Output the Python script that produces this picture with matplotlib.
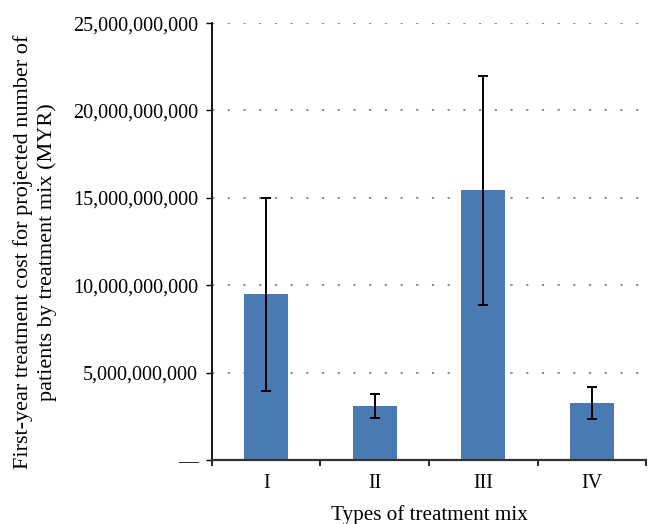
import matplotlib
matplotlib.use('Agg')
import matplotlib.pyplot as plt
from matplotlib.ticker import FuncFormatter
import numpy as np

# Treatment mix categories and first-year cost (MYR)
categories = ['I', 'II', 'III', 'IV']
costs = [9.50e9, 3.09e9, 15.46e9, 3.26e9]
err_low = [3.97e9, 2.41e9, 8.88e9, 2.37e9]
err_high = [15.0e9, 3.80e9, 21.99e9, 4.16e9]
y_ticks = [0, 5e9, 10e9, 15e9, 20e9, 25e9]

plt.rcParams['font.family'] = ['Liberation Serif', 'DejaVu Serif']

fig = plt.figure(figsize=(6.52, 5.24), dpi=100)
ax = fig.add_axes([0.325, 0.122, 0.666, 0.834])

x = np.arange(len(categories))
costs_arr = np.array(costs)
yerr = [costs_arr - np.array(err_low), np.array(err_high) - costs_arr]

ax.bar(x, costs, width=0.405, color='#4a7ab4', zorder=2)
ax.errorbar(x, costs, yerr=yerr, fmt='none', ecolor='black', elinewidth=1.4,
            capsize=3.5, capthick=1.4, zorder=3)

ax.set_xlim(-0.5, len(categories) - 0.5)
ax.set_ylim(0, 25e9)
ax.set_yticks(y_ticks)


def fmt(v, pos):
    if v == 0:
        return '\u2014'
    return f'{int(round(v)):,}'


ax.yaxis.set_major_formatter(FuncFormatter(fmt))
ax.yaxis.grid(True, linestyle=(0, (1.2, 7.5)), color='#808080', linewidth=1.3, zorder=0)

ax.set_xticks(x)
ax.set_xticklabels(categories)
ax.set_xticks(np.arange(-0.5, len(categories)), minor=True)
ax.tick_params(axis='x', which='major', length=0, pad=10, labelsize=14.5)
ax.tick_params(axis='x', which='minor', length=4, width=1.2, direction='out')
ax.tick_params(axis='y', length=4, width=1.0, direction='out', labelsize=14.5, pad=6)

for side in ['top', 'right']:
    ax.spines[side].set_visible(False)
ax.spines['left'].set_linewidth(1.3)
ax.spines['bottom'].set_linewidth(1.6)
ax.spines['bottom'].set_color('#333333')

ax.set_xlabel('Types of treatment mix', fontsize=15.2, labelpad=9)
ax.set_ylabel('First-year treatment cost for projected number of\npatients by treatment mix (MYR)',
              fontsize=16, linespacing=1.3)
ax.yaxis.set_label_coords(-0.356, 0.476)

fig.savefig('out.png', dpi=100)
